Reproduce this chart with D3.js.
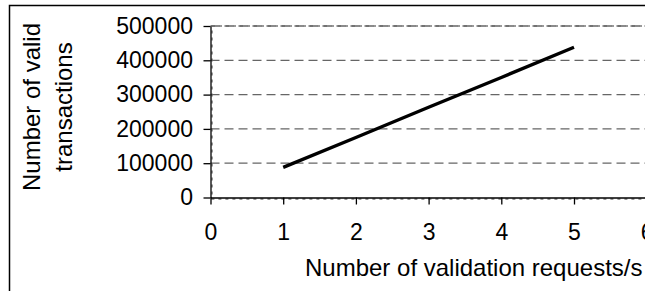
<!DOCTYPE html>
<html>
<head>
<meta charset="utf-8">
<script src="https://cdn.jsdelivr.net/npm/d3@7"></script>
<style>
  body { margin: 0; background: #fff; }
  svg { display: block; }
  text { font-family: "Liberation Sans", Arial, sans-serif; fill: #000; }
  .axis path, .axis line { stroke: #000; stroke-width: 1.3; }
  .grid line { stroke: #666; stroke-width: 1.3; stroke-dasharray: 9,5; }
</style>
</head>
<body>
<div id="chart"></div>
<script>

var requestRates = [1, 2, 3, 4, 5];
var validTransactions = [88000, 175000, 263000, 350000, 438000];
var xTicks = [0, 1, 2, 3, 4, 5, 6];
var yTicks = [0, 100000, 200000, 300000, 400000, 500000];

var W = 645, H = 291;
var plotLeft = 210.5, plotRight = 646.7, plotTop = 26, plotBottom = 197.5;

var svg = d3.select("#chart")
    .append("svg")
    .attr("width", W)
    .attr("height", H);

// outer frame, runs off the right and bottom edge
svg.append("rect")
    .attr("x", 9.5)
    .attr("y", 5.5)
    .attr("width", 700)
    .attr("height", 400)
    .style("fill", "none")
    .style("stroke", "#000")
    .style("stroke-width", 1.5);

var xScale = d3.scaleLinear()
    .domain([0, 6])
    .range([plotLeft, plotRight]);

var yScale = d3.scaleLinear()
    .domain([0, 500000])
    .range([plotBottom, plotTop]);

// dotted plot area border
svg.append("rect")
    .attr("x", plotLeft + 1.5)
    .attr("y", plotTop)
    .attr("width", plotRight - plotLeft)
    .attr("height", plotBottom - plotTop + 1.5)
    .style("fill", "none")
    .style("stroke", "#7a7a7a")
    .style("stroke-width", 1.5)
    .style("stroke-dasharray", "3,4");

svg.append("g")
    .attr("class", "grid")
    .selectAll("line")
    .data(yTicks.filter(function(d) { return d > 0; }))
    .enter()
    .append("line")
    .attr("x1", plotLeft)
    .attr("x2", plotRight)
    .attr("y1", function(d) { return yScale(d); })
    .attr("y2", function(d) { return yScale(d); });

var yAxis = d3.axisLeft()
    .scale(yScale)
    .tickValues(yTicks)
    .tickSize(7)
    .tickSizeOuter(0)
    .tickPadding(10.5)
    .tickFormat(d3.format("d"));

svg.append("g")
    .attr("class", "axis y-axis")
    .attr("transform", "translate(" + plotLeft + ",0)")
    .call(yAxis)
    .selectAll("text")
    .style("font-size", "23px");

var xAxis = d3.axisBottom()
    .scale(xScale)
    .tickValues(xTicks)
    .tickSize(7)
    .tickSizeOuter(0)
    .tickPadding(19)
    .tickFormat(d3.format("d"));

svg.append("g")
    .attr("class", "axis x-axis")
    .attr("transform", "translate(0," + plotBottom + ")")
    .call(xAxis)
    .selectAll("text")
    .style("font-size", "23px");

svg.selectAll(".axis .domain").style("stroke", "#000");
svg.selectAll(".axis text").attr("fill", "#000");

var line = d3.line()
    .x(function(d, i) { return xScale(requestRates[i]); })
    .y(function(d) { return yScale(d); });

svg.append("path")
    .datum(validTransactions)
    .attr("d", line)
    .style("fill", "none")
    .style("stroke", "#000")
    .style("stroke-width", 3.4);

svg.append("text")
    .text("Number of validation requests/s")
    .attr("x", 305)
    .attr("y", 276)
    .style("font-size", "24px");

var yTitle = svg.append("text")
    .attr("transform", "translate(40,107) rotate(-90)")
    .attr("text-anchor", "middle")
    .style("font-size", "24px");

yTitle.append("tspan")
    .attr("x", 0)
    .attr("y", 0)
    .text("Number of valid");

yTitle.append("tspan")
    .attr("x", 0)
    .attr("y", 31.5)
    .text("transactions");

</script>
</body>
</html>
